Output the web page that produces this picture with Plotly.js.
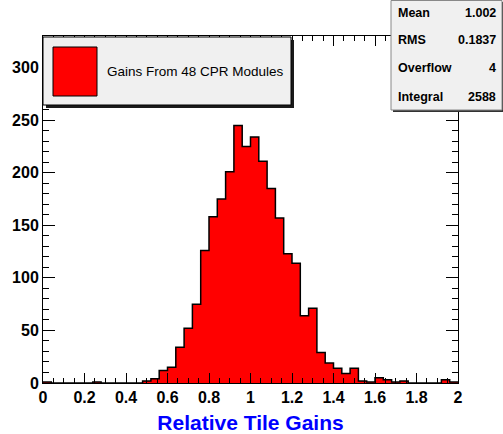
<!DOCTYPE html>
<html>
<head>
<meta charset="utf-8">
<script src="https://cdn.plot.ly/plotly-3.0.1.min.js"></script>
<style>html,body{margin:0;padding:0;background:#fff;}#chart{width:503px;height:434px;}</style>
</head>
<body>
<div id="chart"></div>
<script>
// ---- data ----
const binStart = 0.0;
const binWidth = 0.04;
const counts = [1,0,0,0,0,0,1,0,0,0,
                0,0,2,4,12,15,34,52,75,126,
                158,175,201,245,225,234,211,185,157,123,
                114,64,71,29,19,14,9,14,2,1,
                5,3,1,2,0,0,0,0,3,1];
const seriesName = "Gains From 48 CPR Modules";
const statLabels = ["Mean", "RMS", "Overflow", "Integral"];
const statValues = ["1.002", "0.1837", "4", "2588"];
const xTitle = "Relative Tile Gains";

// ---- geometry ----
const W = 503, H = 434, L = 43, R = 45, T = 36, B = 51;
const pw = W - L - R, ph = H - T - B;
const px = x => (x - L) / pw;
const py = y => (H - B - y) / ph;

const edges = counts.map((c, i) => binStart + i * binWidth);
edges.push(binStart + counts.length * binWidth);
const stepY = counts.concat([counts[counts.length - 1]]);

const FONT = "'Liberation Sans', Arial, Helvetica, sans-serif";

const traces = [
  {
    type: 'scatter', mode: 'lines', x: edges, y: stepY,
    fill: 'tozeroy', fillcolor: '#ff0000',
    line: {shape: 'hv', color: '#000', width: 1.5},
    name: seriesName, showlegend: false, hoverinfo: 'x+y'
  }
];

const shapes = [
  // legend box shadow + box
  {type: 'rect', xref: 'paper', yref: 'paper', x0: px(46), x1: px(294), y0: py(108), y1: py(40),
   fillcolor: '#1a1a1a', line: {width: 0}, layer: 'above'},
  {type: 'rect', xref: 'paper', yref: 'paper', x0: px(43), x1: px(291), y0: py(105), y1: py(37),
   fillcolor: '#f0f0f0', line: {width: 1, color: '#000'}, layer: 'above'},
  {type: 'rect', xref: 'paper', yref: 'paper', x0: px(53), x1: px(97), y0: py(96), y1: py(47),
   fillcolor: '#ff0000', line: {width: 1, color: '#000'}, layer: 'above'},
  // stats box shadow + box
  {type: 'rect', xref: 'paper', yref: 'paper', x0: px(393), x1: px(505), y0: py(112), y1: py(2),
   fillcolor: '#333', line: {width: 0}, layer: 'above'},
  {type: 'rect', xref: 'paper', yref: 'paper', x0: px(391), x1: px(502), y0: py(110), y1: py(0.5),
   fillcolor: '#f0f0f0', line: {width: 1, color: '#888'}, layer: 'above'}
];

const annotations = [
  {xref: 'paper', yref: 'paper', x: px(105), y: py(71), xanchor: 'left', yanchor: 'middle',
   text: seriesName, showarrow: false, font: {family: FONT, size: 13.5, color: '#000'}}
];
const rowY = [13, 40, 68, 97];
statLabels.forEach((lab, i) => {
  annotations.push({xref: 'paper', yref: 'paper', x: px(396), y: py(rowY[i]), xanchor: 'left', yanchor: 'middle',
    text: lab, showarrow: false, font: {family: FONT, size: 12.5, weight: 'bold', color: '#000'}});
  annotations.push({xref: 'paper', yref: 'paper', x: px(498), y: py(rowY[i]), xanchor: 'right', yanchor: 'middle',
    text: statValues[i], showarrow: false, font: {family: FONT, size: 12.5, weight: 'bold', color: '#000'}});
});

const layout = {
  width: W, height: H,
  margin: {l: L, r: R, t: T, b: B, pad: 0},
  paper_bgcolor: '#fff', plot_bgcolor: '#fff',
  showlegend: false,
  xaxis: {
    range: [0, 2], dtick: 0.2, tick0: 0,
    ticks: 'inside', ticklen: 10, tickwidth: 1, tickcolor: '#000',
    minor: {dtick: 0.05, ticks: 'inside', ticklen: 5, tickwidth: 1, tickcolor: '#000', showgrid: false},
    showline: true, linecolor: '#000', linewidth: 1, mirror: 'allticks',
    showgrid: false, zeroline: false,
    tickfont: {family: FONT, size: 16, weight: 'bold', color: '#000'},
    title: {text: xTitle, standoff: 11, font: {family: FONT, size: 21, weight: 'bold', color: '#0000ff'}}
  },
  yaxis: {
    range: [0, 330], dtick: 50, tick0: 0,
    ticks: 'inside', ticklen: 12, tickwidth: 1, tickcolor: '#000',
    minor: {dtick: 10, ticks: 'inside', ticklen: 6, tickwidth: 1, tickcolor: '#000', showgrid: false},
    showline: true, linecolor: '#000', linewidth: 1, mirror: 'allticks',
    showgrid: false, zeroline: false,
    tickfont: {family: FONT, size: 16, weight: 'bold', color: '#000'}
  },
  shapes: shapes,
  annotations: annotations
};

Plotly.newPlot('chart', traces, layout, {staticPlot: true, displayModeBar: false});
</script>
</body>
</html>
